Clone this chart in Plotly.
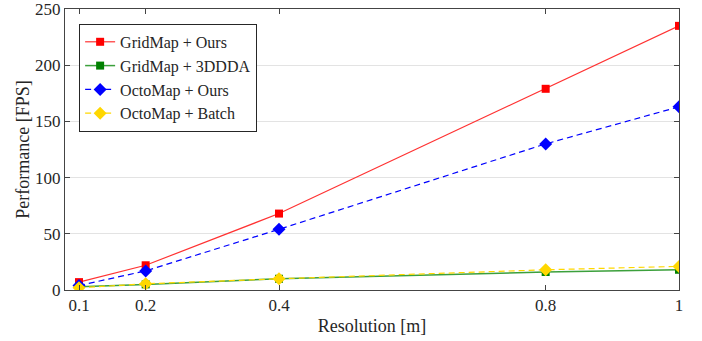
import plotly.graph_objects as go

resolution = [0.1, 0.2, 0.4, 0.8, 1.0]
tick_labels = ["0.1", "0.2", "0.4", "0.8", "1"]
gridmap_ours = [7, 22, 68, 179, 235]
gridmap_3ddda = [3, 5, 10, 16, 18]
octomap_ours = [4, 17, 54, 130, 163]
octomap_batch = [2, 5.5, 10, 18, 21]

FONT = "Liberation Serif"

fig = go.Figure()
fig.add_trace(go.Scatter(x=resolution, y=gridmap_ours, name="GridMap + Ours", mode="lines+markers",
                         line=dict(color="rgb(255,50,50)", width=1.2),
                         marker=dict(symbol="square", size=8, color="red")))
fig.add_trace(go.Scatter(x=resolution, y=gridmap_3ddda, name="GridMap + 3DDDA", mode="lines+markers",
                         line=dict(color="rgb(60,160,60)", width=1.5),
                         marker=dict(symbol="square", size=8, color="green")))
fig.add_trace(go.Scatter(x=resolution, y=octomap_ours, name="OctoMap + Ours", mode="lines+markers",
                         line=dict(color="blue", width=1.2, dash="6px,4px"),
                         marker=dict(symbol="diamond", size=10, color="blue")))
fig.add_trace(go.Scatter(x=resolution, y=octomap_batch, name="OctoMap + Batch", mode="lines+markers",
                         line=dict(color="rgb(255,215,0)", width=1.2, dash="6px,4px"),
                         marker=dict(symbol="diamond", size=10, color="rgb(255,215,0)")))

axis_common = dict(showline=True, linecolor="#444", linewidth=1, mirror="ticks", ticks="inside",
                   ticklen=5, tickcolor="#444", tickfont=dict(family=FONT, size=17, color="#262626"),
                   zeroline=False, automargin=False, ticklabeloverflow="allow")
fig.update_xaxes(range=[0.079, 1.0], tickvals=resolution, ticktext=tick_labels, showgrid=False,
                 title=dict(text="Resolution [m]", font=dict(family=FONT, size=18, color="#262626"), standoff=4),
                 **axis_common)
fig.update_yaxes(range=[0, 250], tickvals=[0, 50, 100, 150, 200, 250], showgrid=True, gridcolor="#e3e3e3",
                 title=dict(text="Performance [FPS]", font=dict(family=FONT, size=18, color="#262626"), standoff=0),
                 **axis_common)
fig.update_layout(
    width=702, height=341,
    margin=dict(l=65, r=23, t=9, b=51),
    paper_bgcolor="white", plot_bgcolor="white",
    font=dict(family=FONT, size=16, color="#262626"),
    legend=dict(x=0.023, y=0.947, xanchor="left", yanchor="top", bgcolor="white",
                bordercolor="#262626", borderwidth=1, font=dict(family=FONT, size=16, color="#262626"),
                tracegroupgap=0, itemwidth=30),
    showlegend=True,
)
fig.write_html("out.html")
